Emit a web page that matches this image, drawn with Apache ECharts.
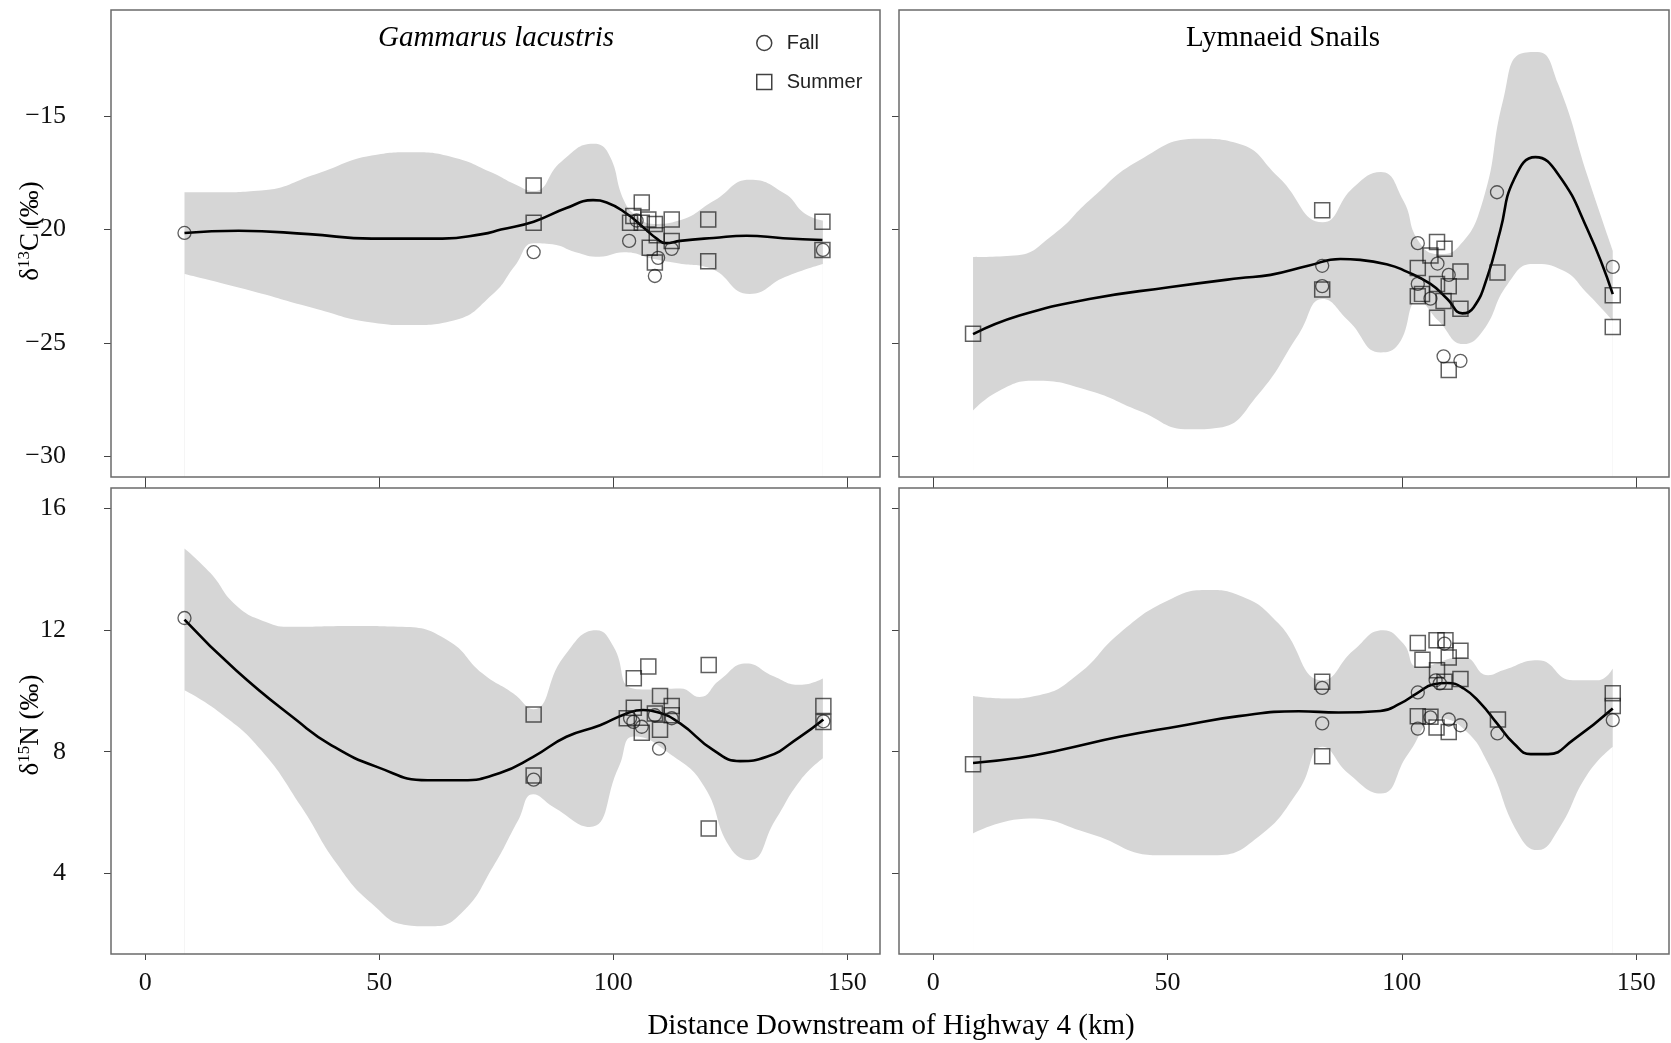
<!DOCTYPE html>
<html>
<head>
<meta charset="utf-8">
<script src="https://cdn.jsdelivr.net/npm/echarts@6/dist/echarts.min.js"></script>
<style>
html,body{margin:0;padding:0;background:#fff;}
#chart{width:1671px;height:1043px;}
</style>
</head>
<body>
<div id="chart"></div>
<script>
// ---------- data ----------
const xTicks = [0, 50, 100, 150];
const cTicks = [-30, -25, -20, -15];
const nTicks = [4, 8, 12, 16];
const panelTitles = ['Gammarus lacustris', 'Lymnaeid Snails'];
const seasons = ['Fall', 'Summer'];

// Gammarus lacustris, d13C
const gamC_fall = [[8.4,-20.15],[83,-21.0],[103.4,-20.5],[105,-19.6],[108.9,-22.05],[109.6,-21.25],[112.5,-20.85],[144.8,-20.9]];
const gamC_summer = [[83,-18.05],[83,-19.7],[103.6,-19.7],[104.3,-19.4],[106.1,-18.8],[106.1,-19.7],[107.5,-19.55],[107.8,-20.8],[108.9,-19.75],[109.3,-20.25],[108.9,-21.45],[112.5,-19.55],[112.5,-20.5],[120.3,-19.55],[120.3,-21.4],[144.7,-19.65],[144.7,-20.9]];
const gamC_fit = [[8.4,-20.15],[20,-20.05],[35,-20.2],[48.4,-20.4],[63.5,-20.4],[72,-20.2],[76,-20.0],[83,-19.65],[90,-19.05],[95.7,-18.7],[98.6,-18.8],[102.9,-19.3],[106.4,-19.9],[109.3,-20.4],[111.2,-20.6],[114.3,-20.5],[121.4,-20.37],[128.5,-20.27],[136.3,-20.38],[144.7,-20.46]];
const gamC_hi = [[8.4,-18.35],[15,-18.35],[24.8,-18.27],[36.6,-17.54],[48.4,-16.73],[57,-16.58],[65.7,-16.8],[74.3,-17.5],[79,-18.0],[83,-18.3],[88.9,-17.0],[95.8,-16.21],[99,-16.65],[102.3,-18.72],[105,-19.4],[108.7,-19.75],[114.1,-19.6],[121.6,-18.72],[129.2,-17.8],[136.7,-18.42],[141,-19.3],[144.8,-19.6]];
const gamC_lo = [[8.4,-21.96],[22.6,-22.7],[35.5,-23.44],[48.4,-24.1],[57,-24.22],[65.7,-24.03],[74.3,-22.85],[79,-21.6],[83,-20.6],[87,-20.65],[92,-21.0],[97,-21.2],[102.3,-21.0],[108.7,-21.3],[114.1,-21.5],[120.6,-21.7],[129.2,-22.85],[136.7,-22.1],[144.8,-21.52]];

// Lymnaeid snails, d13C
const lymC_fall = [[83,-21.6],[83,-22.5],[103.4,-20.6],[103.4,-22.4],[106.1,-23.05],[107.6,-21.5],[110,-22.0],[108.9,-25.6],[112.5,-25.8],[120.3,-18.35],[145,-21.65]];
const lymC_summer = [[8.5,-24.6],[83,-19.15],[83,-22.65],[103.4,-21.7],[103.4,-22.95],[104.3,-22.85],[106.1,-21.15],[107.5,-20.55],[109.1,-20.85],[107.5,-22.4],[110,-22.5],[108.9,-23.15],[107.5,-23.9],[110,-26.2],[112.5,-21.85],[112.5,-23.5],[120.4,-21.9],[145,-22.9],[145,-24.3]];
const lymC_fit = [[8.5,-24.62],[18.4,-23.8],[33.3,-23.07],[50.3,-22.55],[65.2,-22.15],[72,-22.0],[80,-21.6],[86.9,-21.3],[91.1,-21.34],[97.1,-21.55],[100.4,-21.8],[106.1,-22.4],[109.7,-23.07],[112.9,-23.7],[115.3,-23.44],[118.2,-22.11],[121,-20.04],[123.9,-17.8],[128.5,-16.8],[133.3,-17.54],[139.7,-20.04],[145,-22.85]];
const lymC_hi = [[8.5,-21.22],[17.3,-21.15],[25.8,-20.19],[33.3,-18.72],[43.9,-16.95],[56.7,-15.99],[65.2,-16.21],[73.7,-17.69],[83.1,-19.68],[89.7,-18.13],[95.5,-17.46],[100.3,-18.72],[103.5,-20.49],[107.8,-21.08],[112,-20.78],[117.3,-18.72],[121.6,-14.29],[125.3,-12.23],[129,-12.15],[133.3,-13.55],[139.7,-17.69],[145,-20.93]];
const lymC_lo = [[8.5,-28.0],[14.1,-27.12],[21.6,-26.68],[33.3,-27.12],[43.9,-28.0],[54.6,-28.82],[60.9,-28.75],[69.4,-27.27],[78,-24.62],[83.1,-23.07],[88.6,-24.03],[95.5,-25.43],[99.3,-25.06],[103.5,-23.14],[107.8,-24.03],[113.1,-25.06],[117.3,-24.47],[122.6,-22.4],[128,-21.52],[134.4,-21.81],[139.7,-22.85],[145,-24.03]];

// Gammarus lacustris, d15N
const gamN_fall = [[8.4,12.4],[83,7.08],[103.6,9.1],[104.3,8.98],[106.1,8.82],[108.9,9.2],[109.8,8.1],[112.5,9.1],[144.9,9.0]];
const gamN_summer = [[83,9.22],[83,7.22],[104.4,10.42],[107.5,10.8],[104.4,9.45],[102.9,9.1],[106.1,8.62],[108.9,9.26],[110,9.83],[110,8.72],[112.5,9.5],[112.5,9.2],[120.4,10.85],[120.4,5.47],[144.9,9.5],[144.9,8.98]];
const gamN_fit = [[8.4,12.35],[19.4,10.68],[32.3,9.04],[39.8,8.21],[49.5,7.5],[60.3,7.06],[67.8,7.06],[75.8,7.3],[82.9,7.83],[90,8.49],[97.2,8.87],[102.9,9.26],[106.4,9.37],[109.3,9.31],[114.3,8.93],[121.4,8.05],[127.1,7.69],[132.8,7.83],[139.9,8.49],[144.9,9.06]];
const gamN_hi = [[8.4,14.69],[14,13.87],[19.4,12.82],[25.8,12.27],[31.2,12.11],[44.1,12.14],[54.9,12.11],[64.6,11.67],[72.1,10.57],[78.6,9.92],[82.9,9.4],[89.4,11.12],[96.4,12.0],[100.1,11.45],[103.8,10.1],[108,10.05],[114.3,10.08],[118.5,9.8],[122.7,10.35],[128.5,10.9],[134,10.5],[139.9,10.2],[144.8,10.41]];
const gamN_lo = [[8.4,10.02],[16.2,9.26],[24.8,8.05],[33.4,6.18],[40.9,4.32],[48.4,3.0],[56,2.29],[61.4,2.25],[67.8,2.72],[74.3,4.2],[79.7,5.74],[82.9,6.6],[87.2,6.18],[95,5.52],[101.2,7.5],[104.4,8.5],[113,7.83],[119.5,6.84],[124.9,4.86],[129.2,4.43],[134.6,5.74],[140,7.06],[144.8,7.78]];

// Lymnaeid snails, d15N
const lymN_fall = [[83,10.1],[83,8.93],[103.4,9.95],[103.4,8.76],[106.1,9.13],[108.1,10.25],[107.2,10.35],[109.1,11.56],[110,9.06],[112.5,8.87],[120.4,8.6],[145,9.04]];
const lymN_summer = [[8.5,7.59],[83,10.3],[83,7.85],[103.4,11.58],[107.4,11.67],[109.3,11.67],[112.5,11.32],[104.4,11.03],[110,11.1],[107.5,10.68],[112.5,10.39],[109.1,10.3],[103.4,9.17],[106.1,9.15],[107.4,8.8],[110,8.65],[120.5,9.06],[145,9.92],[145,9.5]];
const lymN_fit = [[8.5,7.63],[18.4,7.8],[26.9,8.05],[39.7,8.49],[52.4,8.84],[65.2,9.17],[78,9.33],[86.5,9.29],[95.4,9.34],[99.7,9.59],[103.2,9.92],[106.8,10.22],[109.7,10.26],[113.2,10.08],[116.8,9.59],[120.3,8.93],[123.9,8.27],[127.5,7.92],[131.2,7.92],[136.5,8.38],[145,9.42]];
const lymN_hi = [[8.5,9.83],[15.2,9.75],[22.6,9.86],[31.1,10.57],[39.7,11.89],[50.3,12.99],[58.8,13.32],[65.2,13.15],[73.7,12.22],[83.1,10.35],[89.7,11.34],[96,12.0],[100.3,11.56],[103.5,10.79],[113.1,11.12],[118.4,10.52],[121.6,10.68],[129,11.01],[136.5,10.35],[141.8,10.35],[145,10.74]];
const lymN_lo = [[8.5,5.31],[20.5,5.8],[33.3,5.31],[48.2,4.59],[59.9,4.59],[69.4,5.2],[78,6.73],[83.1,8.16],[88.6,7.28],[95.5,6.62],[101.4,7.94],[107.8,9.09],[113.1,8.76],[118.4,7.61],[124.8,5.31],[129,4.76],[133.3,5.41],[139.7,7.28],[145,8.16]];

// ---------- chart ----------
const SERIF = "'Liberation Serif', 'Times New Roman', serif";
const SANS = "'Liberation Sans', Arial, sans-serif";
const grids = [
  {left: 111, top: 10, width: 769, height: 467},
  {left: 899, top: 10, width: 770, height: 467},
  {left: 111, top: 488, width: 769, height: 466},
  {left: 899, top: 488, width: 770, height: 466}
];
const X_MIN = -7.3, X_MAX = 157;
const C_MIN = -30.93, C_MAX = -10.3;
const N_MIN = 1.34, N_MAX = 16.68;

const panels = [
  {fall: gamC_fall, summer: gamC_summer, fit: gamC_fit, hi: gamC_hi, lo: gamC_lo},
  {fall: lymC_fall, summer: lymC_summer, fit: lymC_fit, hi: lymC_hi, lo: lymC_lo},
  {fall: gamN_fall, summer: gamN_summer, fit: gamN_fit, hi: gamN_hi, lo: gamN_lo},
  {fall: lymN_fall, summer: lymN_summer, fit: lymN_fit, hi: lymN_hi, lo: lymN_lo}
];

function fmt(v) { return v < 0 ? '\u2212' + Math.abs(v) : String(v); }

const tickLine = {color: '#444', width: 1};
const noLine = {show: false, onZero: false};
const xAxes = [];
for (let i = 0; i < 4; i++) {
  xAxes.push({
    type: 'value', gridIndex: i, min: X_MIN, max: X_MAX, position: 'bottom',
    axisLine: noLine, splitLine: {show: false},
    axisTick: {show: true, customValues: xTicks, length: 6, lineStyle: tickLine},
    axisLabel: {show: i >= 2, customValues: xTicks, fontFamily: SERIF, fontSize: 26, color: '#111', margin: 16}
  });
}
for (let i = 2; i < 4; i++) {
  xAxes.push({
    type: 'value', gridIndex: i, min: X_MIN, max: X_MAX, position: 'top',
    axisLine: noLine, splitLine: {show: false},
    axisTick: {show: true, customValues: xTicks, length: 6, lineStyle: tickLine},
    axisLabel: {show: false}
  });
}
const yAxes = [];
for (let i = 0; i < 4; i++) {
  const isC = i < 2;
  yAxes.push({
    type: 'value', gridIndex: i, position: 'left',
    min: isC ? C_MIN : N_MIN, max: isC ? C_MAX : N_MAX,
    axisLine: noLine, splitLine: {show: false},
    axisTick: {show: true, customValues: isC ? cTicks : nTicks, length: 7, lineStyle: tickLine},
    axisLabel: {show: i % 2 === 0, customValues: isC ? cTicks : nTicks, formatter: fmt,
      fontFamily: SERIF, fontSize: 26, color: '#111', margin: 45}
  });
}

const series = [];
panels.forEach((p, i) => {
  const common = {xAxisIndex: i, yAxisIndex: i};
  series.push(Object.assign({
    name: 'band-hi-' + i, type: 'line', data: p.hi, smooth: 0.5,
    showSymbol: false, symbol: 'none', silent: true, z: 1,
    lineStyle: {width: 0, opacity: 0},
    areaStyle: {color: '#d6d6d6', opacity: 1, origin: 'start'}
  }, common));
  series.push(Object.assign({
    name: 'band-lo-' + i, type: 'line', data: p.lo, smooth: 0.5,
    showSymbol: false, symbol: 'none', silent: true, z: 2,
    lineStyle: {width: 0, opacity: 0},
    areaStyle: {color: '#ffffff', opacity: 1, origin: 'start'}
  }, common));
  series.push(Object.assign({
    name: 'fit-' + i, type: 'line', data: p.fit, smooth: 0.5,
    showSymbol: false, symbol: 'none', silent: true, z: 3,
    lineStyle: {color: '#000', width: 2.6}
  }, common));
  series.push(Object.assign({
    name: 'Fall', type: 'scatter', data: p.fall, symbol: 'circle', symbolSize: 13, z: 4,
    itemStyle: {color: 'rgba(255,255,255,0)', borderColor: 'rgba(20,20,20,0.85)', borderWidth: 1.3}
  }, common));
  series.push(Object.assign({
    name: 'Summer', type: 'scatter', data: p.summer, symbol: 'rect', symbolSize: 15, z: 4,
    itemStyle: {color: 'rgba(255,255,255,0)', borderColor: 'rgba(20,20,20,0.85)', borderWidth: 1.5}
  }, common));
});

const option = {
  animation: false,
  backgroundColor: '#fff',
  grid: grids.map(g => Object.assign({show: true, borderColor: '#6b6b6b', borderWidth: 1.5,
    backgroundColor: 'transparent', z: 10, containLabel: false}, g)),
  xAxis: xAxes,
  yAxis: yAxes,
  legend: {
    data: seasons, orient: 'vertical', left: 751, top: 27, itemGap: 17,
    itemWidth: 15, itemHeight: 15, selectedMode: false,
    itemStyle: {color: 'rgba(255,255,255,0)', borderColor: '#111', borderWidth: 1.5},
    textStyle: {fontFamily: SANS, fontSize: 20, color: '#222', lineHeight: 22, padding: [0, 0, 0, 10]}
  },
  graphic: [
    {type: 'text', x: 496, y: 38, style: {text: panelTitles[0], fontFamily: SERIF, fontStyle: 'italic',
      fontSize: 29, fill: '#000', align: 'center', verticalAlign: 'middle'}},
    {type: 'text', x: 1283, y: 38, style: {text: panelTitles[1], fontFamily: SERIF,
      fontSize: 29, fill: '#000', align: 'center', verticalAlign: 'middle'}},
    {type: 'text', x: 891, y: 1026, style: {text: 'Distance Downstream of Highway 4 (km)', fontFamily: SERIF,
      fontSize: 29, fill: '#000', align: 'center', verticalAlign: 'middle'}},
    {type: 'text', x: 31, y: 231, rotation: Math.PI / 2, style: {
      text: '{m|δ}{s|13}{m|C (‰)}', align: 'center', verticalAlign: 'middle',
      rich: {m: {fontFamily: SERIF, fontSize: 27, lineHeight: 30, fill: '#000'},
             s: {fontFamily: SERIF, fontSize: 17, lineHeight: 18, fill: '#000', verticalAlign: 'top'}}}},
    {type: 'text', x: 31, y: 725, rotation: Math.PI / 2, style: {
      text: '{m|δ}{s|15}{m|N (‰)}', align: 'center', verticalAlign: 'middle',
      rich: {m: {fontFamily: SERIF, fontSize: 27, lineHeight: 30, fill: '#000'},
             s: {fontFamily: SERIF, fontSize: 17, lineHeight: 18, fill: '#000', verticalAlign: 'top'}}}}
  ],
  series: series
};

const chart = echarts.init(document.getElementById('chart'), null, {renderer: 'canvas'});
chart.setOption(option);
</script>
</body>
</html>
